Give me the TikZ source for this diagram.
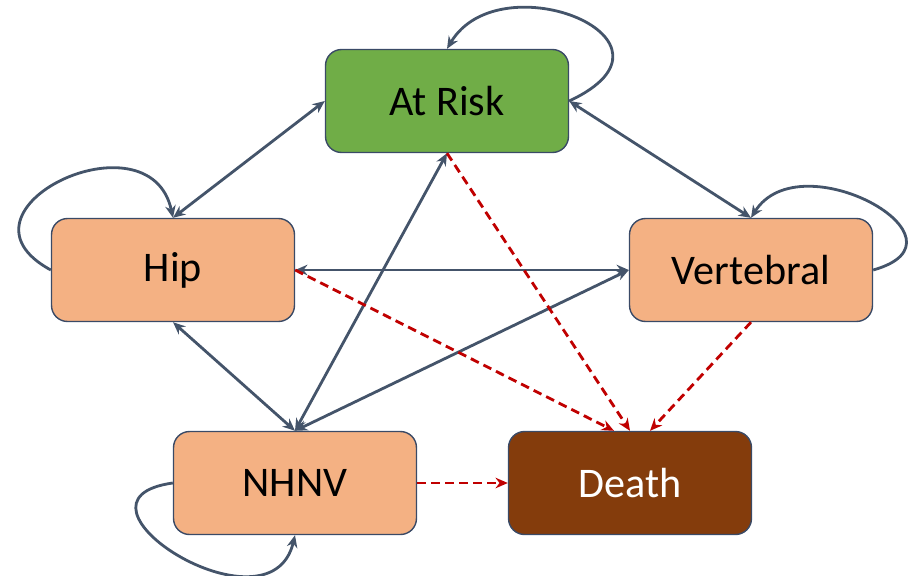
\documentclass[tikz,border=0pt]{standalone}
\usepackage{fontspec}
\setmainfont{Carlito}
\usepackage{tikz}
\usetikzlibrary{arrows.meta,calc}

\definecolor{edgecol}{HTML}{44546A}
\definecolor{deathcol}{HTML}{C00000}
\definecolor{riskfill}{HTML}{70AD47}
\definecolor{fracfill}{HTML}{F4B183}
\definecolor{deadfill}{HTML}{843C0C}
\definecolor{boxline}{HTML}{3A4A66}

\tikzset{
  state/.style={draw=boxline, line width=0.8pt, rounded corners=0.32cm,
    minimum width=4.86cm, minimum height=2.06cm,
    font=\fontsize{24}{28}\selectfont},
  trans/.style={draw=edgecol, line width=1.6pt,
    {Stealth[length=7pt,width=6pt]}-{Stealth[length=7pt,width=6pt]}},
  loop/.style={draw=edgecol, line width=1.6pt, -{Stealth[length=7pt,width=6pt]}},
  dies/.style={draw=deathcol, line width=1.6pt, dash pattern=on 5pt off 3pt,
    -{Stealth[length=7pt,width=6pt]}}
}

\begin{document}
\begin{tikzpicture}[x=0.02cm, y=-0.02cm]
    \useasboundingbox (0,0) rectangle (916,575);
    \node[state, fill=riskfill] (atrisk) at (447,101) {At Risk};
    \node[state, fill=fracfill] (hip) at (173,270) {Hip};
    \node[state, fill=fracfill] (vert) at (751,270) {Vertebral};
    \node[state, fill=fracfill] (nhnv) at (295,483) {NHNV};
    \node[state, fill=deadfill, text=white] (death) at (630,483) {Death};
    % transitions between health states
    \draw[trans] (atrisk.west) -- (hip.north);
    \draw[trans] (atrisk.east) -- (vert.north);
    \draw[trans] (hip.east) -- (vert.west);
    \draw[trans] (hip.south) -- (nhnv.north);
    \draw[trans] (nhnv.north) -- (atrisk.south);
    \draw[trans] (nhnv.north) -- (vert.west);
    % staying in the same state
    \draw[loop] (atrisk.east) .. controls (700,40) and (500,-40) .. (atrisk.north);
    \draw[loop] (hip.west) .. controls (-60,210) and (150,110) .. (hip.north);
    \draw[loop] (vert.east) .. controls (980,240) and (800,140) .. (vert.north);
    \draw[loop] (nhnv.west) .. controls (50,500) and (270,640) .. (nhnv.south);
    % death
    \draw[dies] (atrisk.south) -- (death.north);
    \draw[dies] (hip.east) -- ($(death.north)+(-16,0)$);
    \draw[dies] (vert.south) -- ($(death.north)+(20,0)$);
    \draw[dies] (nhnv.east) -- (death.west);
  \end{tikzpicture}
\end{document}
